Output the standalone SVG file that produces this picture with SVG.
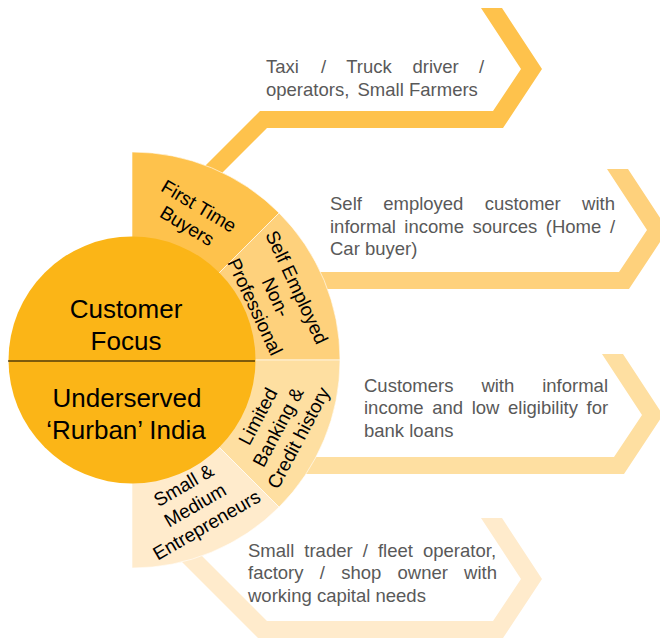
<svg xmlns="http://www.w3.org/2000/svg" width="660" height="638" viewBox="0 0 660 638">
<style>
.seg{stroke:#FFFFFF;stroke-width:1;stroke-opacity:0.6}
.st{font-family:"Liberation Sans",Arial,sans-serif;font-size:19px;fill:#000;text-anchor:middle}
.ct{font-family:"Liberation Sans",Arial,sans-serif;font-size:26px;fill:#000;text-anchor:middle}
.dt{font-family:"Liberation Sans",Arial,sans-serif;font-size:18.5px;fill:#595959}
</style>
<rect width="660" height="638" fill="#FFFFFF"/>
<g id="connectors">
<polygon id="arrow1" fill="#FEC24C" points="481,8 521,69 493,111 260,111 180,191 200,195 267,128 503,128 542,69 502,8"/>
<polygon id="arrow2" fill="#FED17C" points="607,169 647,230 619,272 300,272 300,289 629,289 668,230 628,169"/>
<polygon id="arrow3" fill="#FEDFA1" points="602,354 642,415 614,457 300,457 300,474 624,474 663,415 623,354"/>
<polygon id="arrow4" fill="#FFEBCC" points="481,518 521,579 493,621 267,621 190,544 170,550 258,638 503,638 542,579 502,518"/>
</g>
<g id="seg1">
<path class="seg" fill="#FEC24C" d="M132,360 L132,152 A208,208 0 0 1 279.08,212.92 Z"/>
<text class="st" transform="translate(193,216) rotate(31)"><tspan x="0" y="-5">First Time</tspan><tspan x="0" y="18">Buyers</tspan></text>
</g>
<g id="seg2">
<path class="seg" fill="#FED17C" d="M132,360 L279.08,212.92 A208,208 0 0 1 340,360 Z"/>
<text class="st" transform="translate(276,297) rotate(65)"><tspan x="0" y="-16.3">Self Employed</tspan><tspan x="0" y="6.7">Non-</tspan><tspan x="0" y="29.7">Professional</tspan></text>
</g>
<g id="seg3">
<path class="seg" fill="#FEDFA1" d="M132,360 L340,360 A208,208 0 0 1 279.08,507.08 Z"/>
<text class="st" transform="translate(278,427) rotate(-62)"><tspan x="0" y="-16.3">Limited</tspan><tspan x="0" y="6.7">Banking &amp;</tspan><tspan x="0" y="29.7">Credit history</tspan></text>
</g>
<g id="seg4">
<path class="seg" fill="#FFEBCC" d="M132,360 L279.08,507.08 A208,208 0 0 1 132,568 Z"/>
<text class="st" transform="translate(195,505) rotate(-30)"><tspan x="0" y="-16.3">Small &amp;</tspan><tspan x="0" y="6.7">Medium</tspan><tspan x="0" y="29.7">Entrepreneurs</tspan></text>
</g>
<g id="center">
<circle cx="132" cy="360" r="123.5" fill="#FBB517"/>
<line x1="8" y1="361" x2="255" y2="361" stroke="#000" stroke-width="1.2"/>
<text class="ct" x="126" y="318">Customer</text>
<text class="ct" x="126" y="350">Focus</text>
<text class="ct" x="127" y="407">Underserved</text>
<text class="ct" x="126" y="439">‘Rurban’ India</text>
</g>
<g id="desc1" class="dt">
<text y="73"><tspan x="266">Taxi</tspan><tspan x="321">/</tspan><tspan x="346.2">Truck</tspan><tspan x="412.5">driver</tspan><tspan x="478.9">/</tspan></text>
<text y="95.7"><tspan x="266">operators,</tspan><tspan x="357.5">Small</tspan><tspan x="409">Farmers</tspan></text>
</g>
<g id="desc2" class="dt">
<text y="210"><tspan x="330">Self</tspan><tspan x="383.2">employed</tspan><tspan x="484.7">customer</tspan><tspan x="582.1">with</tspan></text>
<text y="232.5"><tspan x="330">informal</tspan><tspan x="404.3">income</tspan><tspan x="472.5">sources</tspan><tspan x="545.8">(Home</tspan><tspan x="609.9">/</tspan></text>
<text y="255" x="330">Car buyer)</text>
</g>
<g id="desc3" class="dt">
<text y="391.7"><tspan x="364">Customers</tspan><tspan x="481.4">with</tspan><tspan x="542.2">informal</tspan></text>
<text y="414"><tspan x="364">income</tspan><tspan x="432.2">and</tspan><tspan x="471.7">low</tspan><tspan x="508">eligibility</tspan><tspan x="586.5">for</tspan></text>
<text y="436.5" x="364">bank loans</text>
</g>
<g id="desc4" class="dt">
<text y="556.7"><tspan x="248">Small</tspan><tspan x="304.3">trader</tspan><tspan x="362.7">/</tspan><tspan x="377.9">fleet</tspan><tspan x="423">operator,</tspan></text>
<text y="579"><tspan x="248">factory</tspan><tspan x="319.8">/</tspan><tspan x="341.2">shop</tspan><tspan x="397.5">owner</tspan><tspan x="464.1">with</tspan></text>
<text y="601.7" x="248">working capital needs</text>
</g>
</svg>
